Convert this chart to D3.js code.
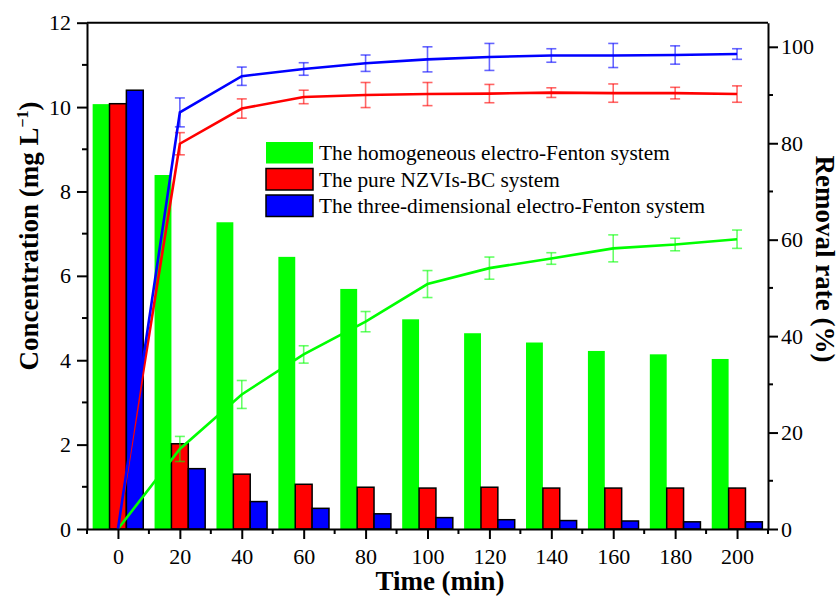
<!DOCTYPE html>
<html lang='en'>
  <head>
    <meta charset='utf-8'>
    <title>Concentration and removal rate</title>
    <script src="https://d3js.org/d3.v7.min.js" charset='utf-8'></script>
    <style type="text/css">
      body { margin: 0; background: #fff; }
      svg { display: block; }
      text { font-family: 'Liberation Serif', 'Times New Roman', serif; fill: #000; }
      .axis path, .axis line { stroke: #000; stroke-width: 2px; }
      .axis text { font-size: 22px; }
      .title { font-size: 27px; font-weight: bold; }
      .legend text { font-size: 21.3px; }
    </style>
  </head>
  <body>
    <script type="text/javascript">
      var width = 839, height = 597;

      // data
      var times = [0, 20, 40, 60, 80, 100, 120, 140, 160, 180, 200];
      var seriesNames = ['The homogeneous electro-Fenton system',
                         'The pure NZVIs-BC system',
                         'The three-dimensional electro-Fenton system'];
      var colors = ['#00ff00', '#ff0000', '#0000ff'];
      // concentration (mg/L), bars
      var concHomo  = [10.07, 8.39, 7.27, 6.45, 5.69, 4.97, 4.64, 4.42, 4.22, 4.14, 4.03];
      var concNzvi  = [10.08, 2.02, 1.30, 1.06, 0.99, 0.97, 0.99, 0.97, 0.97, 0.97, 0.97];
      var concThree = [10.40, 1.43, 0.65, 0.49, 0.36, 0.27, 0.22, 0.20, 0.19, 0.17, 0.17];
      // removal rate (%), lines with error bars
      var remHomo  = [0, 16.6, 27.9, 36.2, 43.0, 50.8, 54.1, 56.1, 58.2, 59.0, 60.1];
      var remNzvi  = [0, 79.9, 87.2, 89.6, 90.0, 90.2, 90.3, 90.5, 90.4, 90.4, 90.2];
      var remThree = [0, 86.4, 93.9, 95.4, 96.6, 97.4, 97.9, 98.2, 98.2, 98.3, 98.5];
      var errHomo  = [0, 2.6, 2.9, 1.8, 2.1, 2.8, 2.3, 1.2, 2.8, 1.3, 1.9];
      var errNzvi  = [0, 2.3, 2.0, 1.4, 2.6, 2.4, 1.9, 1.0, 1.9, 1.2, 1.7];
      var errThree = [0, 3.0, 1.9, 1.3, 1.7, 2.6, 2.8, 1.4, 2.5, 1.9, 1.1];

      var concSeries = [concHomo, concNzvi, concThree];
      var remSeries = [remHomo, remNzvi, remThree];
      var errSeries = [errHomo, errNzvi, errThree];

      var plotLeft = 87, plotRight = 768, plotTop = 22.7, plotBottom = 529;

      var svg = d3.select('body').append('svg')
        .attr('width', width)
        .attr('height', height);

      var x = d3.scaleLinear().domain([-10, 210]).range([plotLeft, plotRight]);
      var yL = d3.scaleLinear().domain([0, 12]).range([plotBottom, plotTop]);
      var yR = d3.scaleLinear().domain([0, 105]).range([plotBottom, plotTop]);

      // bars
      var bw = x(5.45) - x(0);
      concSeries.forEach(function(vals, s) {
        svg.append('g').selectAll('rect')
          .data(vals)
          .enter().append('rect')
          .attr('x', function(d, i) { return x(times[i]) + (s - 1.5) * bw; })
          .attr('y', function(d) { return yL(d); })
          .attr('width', bw)
          .attr('height', function(d) { return yL(0) - yL(d); })
          .attr('fill', colors[s])
          .attr('stroke', s === 0 ? 'none' : '#000')
          .attr('stroke-width', 1.5);
      });

      // lines
      var line = d3.line()
        .x(function(d, i) { return x(times[i]); })
        .y(function(d) { return yR(d); });

      remSeries.forEach(function(vals, s) {
        var g = svg.append('g');
        var errs = errSeries[s];
        var eb = g.selectAll('g.err')
          .data(vals.map(function(v, i) { return { t: times[i], v: v, e: errs[i] }; })
            .filter(function(d) { return d.e > 0; }))
          .enter().append('g')
          .attr('stroke', colors[s])
          .attr('stroke-opacity', 0.6)
          .attr('stroke-width', 1.6);
        eb.append('line')
          .attr('x1', function(d) { return x(d.t); })
          .attr('x2', function(d) { return x(d.t); })
          .attr('y1', function(d) { return yR(d.v - d.e); })
          .attr('y2', function(d) { return yR(d.v + d.e); });
        [-1, 1].forEach(function(k) {
          eb.append('line')
            .attr('x1', function(d) { return x(d.t) - 5; })
            .attr('x2', function(d) { return x(d.t) + 5; })
            .attr('y1', function(d) { return yR(d.v + k * d.e); })
            .attr('y2', function(d) { return yR(d.v + k * d.e); });
        });
        g.append('path')
          .datum(vals)
          .attr('d', line)
          .attr('fill', 'none')
          .attr('stroke', colors[s])
          .attr('stroke-width', 2.6);
      });

      // axes
      function minorTicks(g, scale, vals, orient, len) {
        g.selectAll('line.minor')
          .data(vals)
          .enter().append('line')
          .attr('class', 'minor')
          .each(function(d) {
            var el = d3.select(this);
            if (orient === 'bottom') {
              el.attr('x1', scale(d)).attr('x2', scale(d)).attr('y1', 0).attr('y2', len);
            } else {
              var sgn = orient === 'left' ? -1 : 1;
              el.attr('y1', scale(d)).attr('y2', scale(d)).attr('x1', 0).attr('x2', sgn * len);
            }
          });
      }

      var gx = svg.append('g').attr('class', 'axis')
        .attr('transform', 'translate(0,' + plotBottom + ')')
        .call(d3.axisBottom(x).tickValues(d3.range(0, 201, 20)).tickSize(10).tickPadding(9).tickSizeOuter(0));
      minorTicks(gx, x, d3.range(-10, 211, 20), 'bottom', 5);

      var gl = svg.append('g').attr('class', 'axis')
        .attr('transform', 'translate(' + plotLeft + ',0)')
        .call(d3.axisLeft(yL).tickValues(d3.range(0, 13, 2)).tickSize(10).tickPadding(6).tickSizeOuter(0));
      minorTicks(gl, yL, d3.range(1, 12, 2), 'left', 5);

      var gr = svg.append('g').attr('class', 'axis')
        .attr('transform', 'translate(' + plotRight + ',0)')
        .call(d3.axisRight(yR).tickValues(d3.range(0, 101, 20)).tickSize(10).tickPadding(3).tickSizeOuter(0));
      minorTicks(gr, yR, d3.range(10, 100, 20), 'right', 5);

      svg.append('line')
        .attr('x1', plotLeft).attr('x2', plotRight)
        .attr('y1', plotTop).attr('y2', plotTop)
        .attr('stroke', '#000').attr('stroke-width', 2);

      // axis titles
      svg.append('text').attr('class', 'title')
        .attr('x', 440).attr('y', 590)
        .attr('text-anchor', 'middle')
        .text('Time (min)');

      var lt = svg.append('text').attr('class', 'title')
        .attr('transform', 'translate(38,236) rotate(-90)')
        .attr('text-anchor', 'middle');
      lt.append('tspan').text('Concentration (mg L');
      lt.append('tspan').attr('dy', -10).style('font-size', '16px').text('\u22121');
      lt.append('tspan').attr('dy', 10).text(')');

      svg.append('text').attr('class', 'title')
        .attr('transform', 'translate(816,259) rotate(90)')
        .attr('text-anchor', 'middle')
        .text('Removal rate (%)');

      // legend
      var legend = svg.append('g').attr('class', 'legend')
        .attr('transform', 'translate(266,142)');
      var items = legend.selectAll('g')
        .data(seriesNames)
        .enter().append('g')
        .attr('transform', function(d, i) { return 'translate(0,' + (i * 26.5) + ')'; });
      items.append('rect')
        .attr('width', 47).attr('height', 21.5)
        .attr('fill', function(d, i) { return colors[i]; })
        .attr('stroke', function(d, i) { return i === 0 ? 'none' : '#000'; })
        .attr('stroke-width', 1.5);
      items.append('text')
        .attr('x', 53).attr('y', 18)
        .text(function(d) { return d; });
    </script>
  </body>
</html>
